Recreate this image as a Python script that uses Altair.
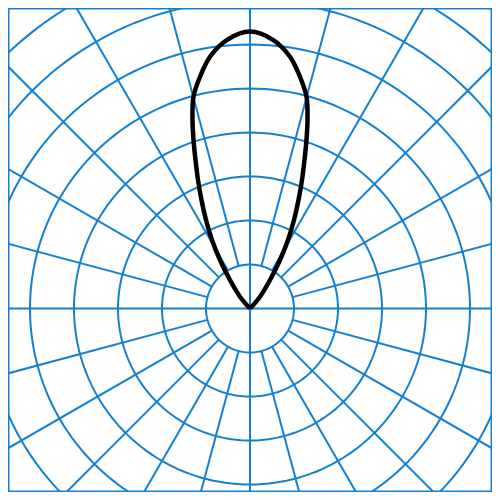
import altair as alt
import numpy as np
import pandas as pd

# Polar grid definition (ring units; one ring = one unit)
ring_radii = [1, 2, 3, 4, 5, 6, 7, 8, 9]
spoke_angles = list(range(0, 360, 15))          # degrees, clockwise from up
through_center = [0, 90, 180, 270]              # spokes that reach the centre
spoke_inner = 1
spoke_outer = 10

# Lobe (half, symmetric about the vertical)
lobe_angle = [0, 4.96, 9.03, 12.17, 14.94, 16.96, 18.53, 20.15, 22.03, 24.09,
              26.43, 29.02, 31.74, 35.06, 40.28, 45]
lobe_radius = [6.295, 6.125, 5.795, 5.389, 4.982, 4.479, 4.039, 3.595, 3.150, 2.701,
               2.246, 1.781, 1.296, 0.791, 0.352, 0.0]

GRID = "#1380d2"

def to_xy(r, deg):
    t = np.deg2rad(deg)
    return r * np.sin(t), r * np.cos(t)

# circles
rows = []
samp = np.arange(0, 361, 2)
for r in ring_radii:
    for i, a in enumerate(samp):
        x, y = to_xy(r, a)
        rows.append({"ring": r, "i": i, "x": x, "y": y})
circles = pd.DataFrame(rows)

# spokes
rows = []
for a in spoke_angles:
    r0 = 0 if a in through_center else spoke_inner
    for i, r in enumerate([r0, spoke_outer]):
        x, y = to_xy(r, a)
        rows.append({"spoke": a, "i": i, "x": x, "y": y})
spokes = pd.DataFrame(rows)

# lobe (mirror the half)
full_ang = [-a for a in lobe_angle[::-1]] + lobe_angle[1:]
full_rad = lobe_radius[::-1] + lobe_radius[1:]
rows = []
for i, (a, r) in enumerate(zip(full_ang, full_rad)):
    x, y = to_xy(r, a)
    rows.append({"i": i, "x": x, "y": y})
lobe = pd.DataFrame(rows)

xs = alt.Scale(domain=[-5.5, 5.5], nice=False, zero=False)
ys = alt.Scale(domain=[-4.17, 6.83], nice=False, zero=False)

circ = alt.Chart(circles).mark_line(color=GRID, strokeWidth=2, clip=True).encode(
    x=alt.X("x:Q", scale=xs, axis=None),
    y=alt.Y("y:Q", scale=ys, axis=None),
    detail="ring:N",
    order="i:O",
)
spk = alt.Chart(spokes).mark_line(color=GRID, strokeWidth=2, clip=True).encode(
    x=alt.X("x:Q", scale=xs, axis=None),
    y=alt.Y("y:Q", scale=ys, axis=None),
    detail="spoke:N",
    order="i:O",
)
lb = alt.Chart(lobe).mark_line(color="black", strokeWidth=4.5, interpolate="catmull-rom",
                                strokeJoin="round", clip=True).encode(
    x=alt.X("x:Q", scale=xs, axis=None),
    y=alt.Y("y:Q", scale=ys, axis=None),
    order="i:Q",
)

chart = (circ + spk + lb).properties(width=484, height=484, padding=0).configure_view(
    stroke=GRID, strokeWidth=3
)

chart.save("out.html", embed_options={"renderer": "svg", "actions": False})
